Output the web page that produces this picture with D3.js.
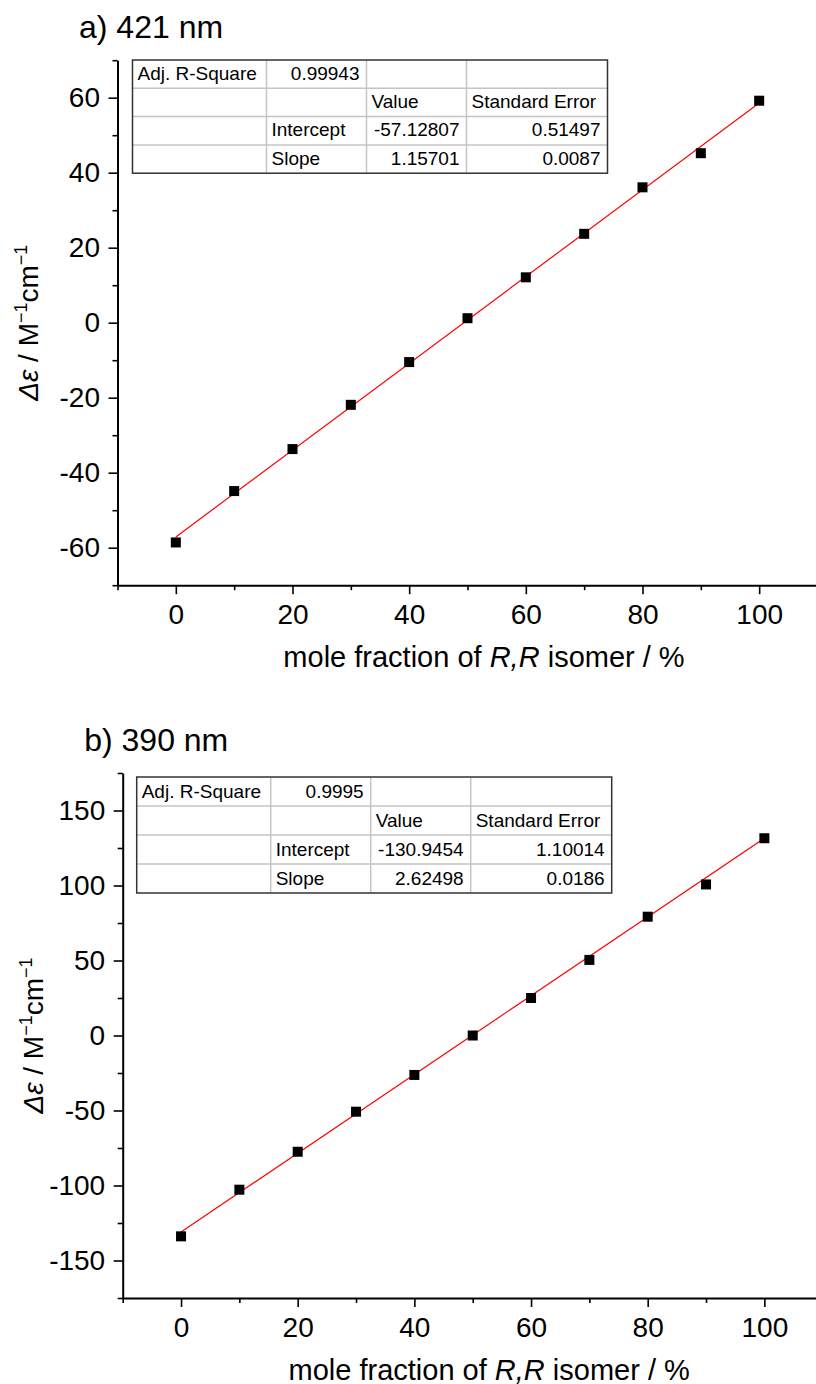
<!DOCTYPE html>
<html>
<head>
<meta charset="utf-8">
<script src="https://cdn.jsdelivr.net/npm/d3@7.9.0/dist/d3.min.js"></script>
<style>
  body { margin: 0; background: #fff; }
  svg { display: block; font-family: "Liberation Sans", Arial, sans-serif; }
</style>
</head>
<body>
<svg id="chart" width="816" height="1384"></svg>
<script>
const molePct = [0, 10, 20, 30, 40, 50, 60, 70, 80, 90, 100];
const deltaEps421 = [-58.6, -44.9, -33.7, -21.9, -10.5, 1.2, 12.1, 23.7, 36.1, 45.2, 59.2];
const deltaEps390 = [-133.9, -102.8, -77.5, -50.8, -26.3, 0.0, 25.0, 50.4, 79.2, 100.7, 131.5];

const xTicks = [0, 20, 40, 60, 80, 100];
const xMinorTicks = [-10, 10, 30, 50, 70, 90, 110];
const yTicks421 = [-60, -40, -20, 0, 20, 40, 60];
const yMinorTicks421 = [-70, -50, -30, -10, 10, 30, 50, 70];
const yTicks390 = [-150, -100, -50, 0, 50, 100, 150];
const yMinorTicks390 = [-175, -125, -75, -25, 25, 75, 125, 175];

// intercept, slope from the fit tables
const fit421 = [-57.12807, 1.15701];
const fit390 = [-130.9454, 2.62498];

const table421 = [
  ["Adj. R-Square", "0.99943", "", ""],
  ["", "", "Value", "Standard Error"],
  ["", "Intercept", "-57.12807", "0.51497"],
  ["", "Slope", "1.15701", "0.0087"]
];
const table390 = [
  ["Adj. R-Square", "0.9995", "", ""],
  ["", "", "Value", "Standard Error"],
  ["", "Intercept", "-130.9454", "1.10014"],
  ["", "Slope", "2.62498", "0.0186"]
];

const svg = d3.select("#chart");

function drawTable(g, rows, x0, y0, rowH) {
  const colW = [134, 100, 100, 141];
  const colX = [x0];
  colW.forEach((w, i) => colX.push(colX[i] + w));
  const w = colX[colX.length - 1] - x0;
  const h = rowH * rows.length;

  g.append("rect")
    .attr("x", x0).attr("y", y0)
    .attr("width", w).attr("height", h)
    .attr("fill", "#fff");

  for (let i = 1; i < rows.length; i++) {
    g.append("line")
      .attr("x1", x0).attr("x2", x0 + w)
      .attr("y1", y0 + i * rowH).attr("y2", y0 + i * rowH)
      .attr("stroke", "#c4c4c4").attr("stroke-width", 1.5);
  }
  for (let j = 1; j < colW.length; j++) {
    g.append("line")
      .attr("x1", colX[j]).attr("x2", colX[j])
      .attr("y1", y0).attr("y2", y0 + h)
      .attr("stroke", "#c4c4c4").attr("stroke-width", 1.5);
  }
  g.append("rect")
    .attr("x", x0).attr("y", y0)
    .attr("width", w).attr("height", h)
    .attr("fill", "none")
    .attr("stroke", "#333").attr("stroke-width", 1.5);

  rows.forEach((row, i) => {
    row.forEach((cell, j) => {
      if (!cell) return;
      const isNum = !isNaN(+cell);
      g.append("text")
        .attr("x", isNum ? colX[j + 1] - 7 : colX[j] + 5)
        .attr("y", y0 + (i + 1) * rowH - 8.5)
        .attr("text-anchor", isNum ? "end" : "start")
        .style("font-size", "19px")
        .attr("fill", "#000")
        .text(cell);
    });
  });
}

function drawPanel(cfg) {
  const g = svg.append("g");
  const x = d3.scaleLinear().domain([-10, 110]).range([cfg.left, cfg.left + 700]);
  const y = d3.scaleLinear().domain(cfg.yDomain).range([cfg.top + 525, cfg.top]);

  // minor ticks
  g.append("g")
    .attr("transform", `translate(0,${cfg.top + 525})`)
    .call(d3.axisBottom(x).tickValues(xMinorTicks).tickSize(5).tickFormat(""))
    .call(a => a.select(".domain").remove())
    .call(a => a.selectAll("line").attr("stroke-width", 1.6));
  g.append("g")
    .attr("transform", `translate(${cfg.left},0)`)
    .call(d3.axisLeft(y).tickValues(cfg.yMinor).tickSize(5).tickFormat(""))
    .call(a => a.select(".domain").remove())
    .call(a => a.selectAll("line").attr("stroke-width", 1.6));

  // major ticks
  const xAxis = g.append("g")
    .attr("transform", `translate(0,${cfg.top + 525})`)
    .call(d3.axisBottom(x).tickValues(xTicks).tickSize(9).tickSizeOuter(0)
      .tickPadding(10).tickFormat(d => String(d)));
  const yAxis = g.append("g")
    .attr("transform", `translate(${cfg.left},0)`)
    .call(d3.axisLeft(y).tickValues(cfg.yTicks).tickSize(9).tickSizeOuter(0)
      .tickPadding(8.5).tickFormat(d => String(d)));

  [xAxis, yAxis].forEach(a => {
    a.attr("font-family", null).attr("font-size", null);
    a.select(".domain").attr("stroke-width", 2);
    a.selectAll(".tick line").attr("stroke-width", 1.6);
    a.selectAll("text").style("font-size", "28px").attr("fill", "#000");
  });

  // fit line
  g.append("line")
    .attr("x1", x(0)).attr("y1", y(cfg.fit[0]))
    .attr("x2", x(100)).attr("y2", y(cfg.fit[0] + cfg.fit[1] * 100))
    .attr("stroke", "#ff0000").attr("stroke-width", 1.2);

  // data points
  g.append("g")
    .selectAll("rect")
    .data(molePct.map((m, i) => [m, cfg.ys[i]]))
    .join("rect")
    .attr("x", d => x(d[0]) - 5)
    .attr("y", d => y(d[1]) - 5)
    .attr("width", 10)
    .attr("height", 10)
    .attr("fill", "#000");

  drawTable(g, cfg.table, cfg.tableLeft, cfg.tableTop, cfg.rowH);

  // title
  g.append("text")
    .attr("x", cfg.left - 38.5)
    .attr("y", cfg.top - 22)
    .style("font-size", "32px")
    .text(cfg.title);

  // y label
  const yl = g.append("text")
    .attr("transform", `translate(${cfg.left - 79.5},${cfg.top + 262.5}) rotate(-90)`)
    .attr("text-anchor", "middle")
    .style("font-size", "28px");
  yl.append("tspan").style("font-style", "italic").text("Δε");
  yl.append("tspan").text(" / M");
  yl.append("tspan").attr("dy", -11).style("font-size", "18px").text("−1");
  yl.append("tspan").attr("dy", 11).text("cm");
  yl.append("tspan").attr("dy", -11).style("font-size", "18px").text("−1");

  // x label
  const xl = g.append("text")
    .attr("x", cfg.left + 366.5)
    .attr("y", cfg.top + 606.5)
    .attr("text-anchor", "middle")
    .style("font-size", "29px");
  xl.append("tspan").text("mole fraction of ");
  xl.append("tspan").style("font-style", "italic").text("R,R");
  xl.append("tspan").text(" isomer / %");
}

drawPanel({
  title: "a) 421 nm",
  left: 117.5, top: 60.2,
  yDomain: [-70, 70],
  yTicks: yTicks421, yMinor: yMinorTicks421,
  ys: deltaEps421, fit: fit421,
  table: table421, tableLeft: 132.5, tableTop: 60, rowH: 28.3
});

drawPanel({
  title: "b) 390 nm",
  left: 122.7, top: 773,
  yDomain: [-175, 175],
  yTicks: yTicks390, yMinor: yMinorTicks390,
  ys: deltaEps390, fit: fit390,
  table: table390, tableLeft: 136.7, tableTop: 777, rowH: 29
});
</script>
</body>
</html>
